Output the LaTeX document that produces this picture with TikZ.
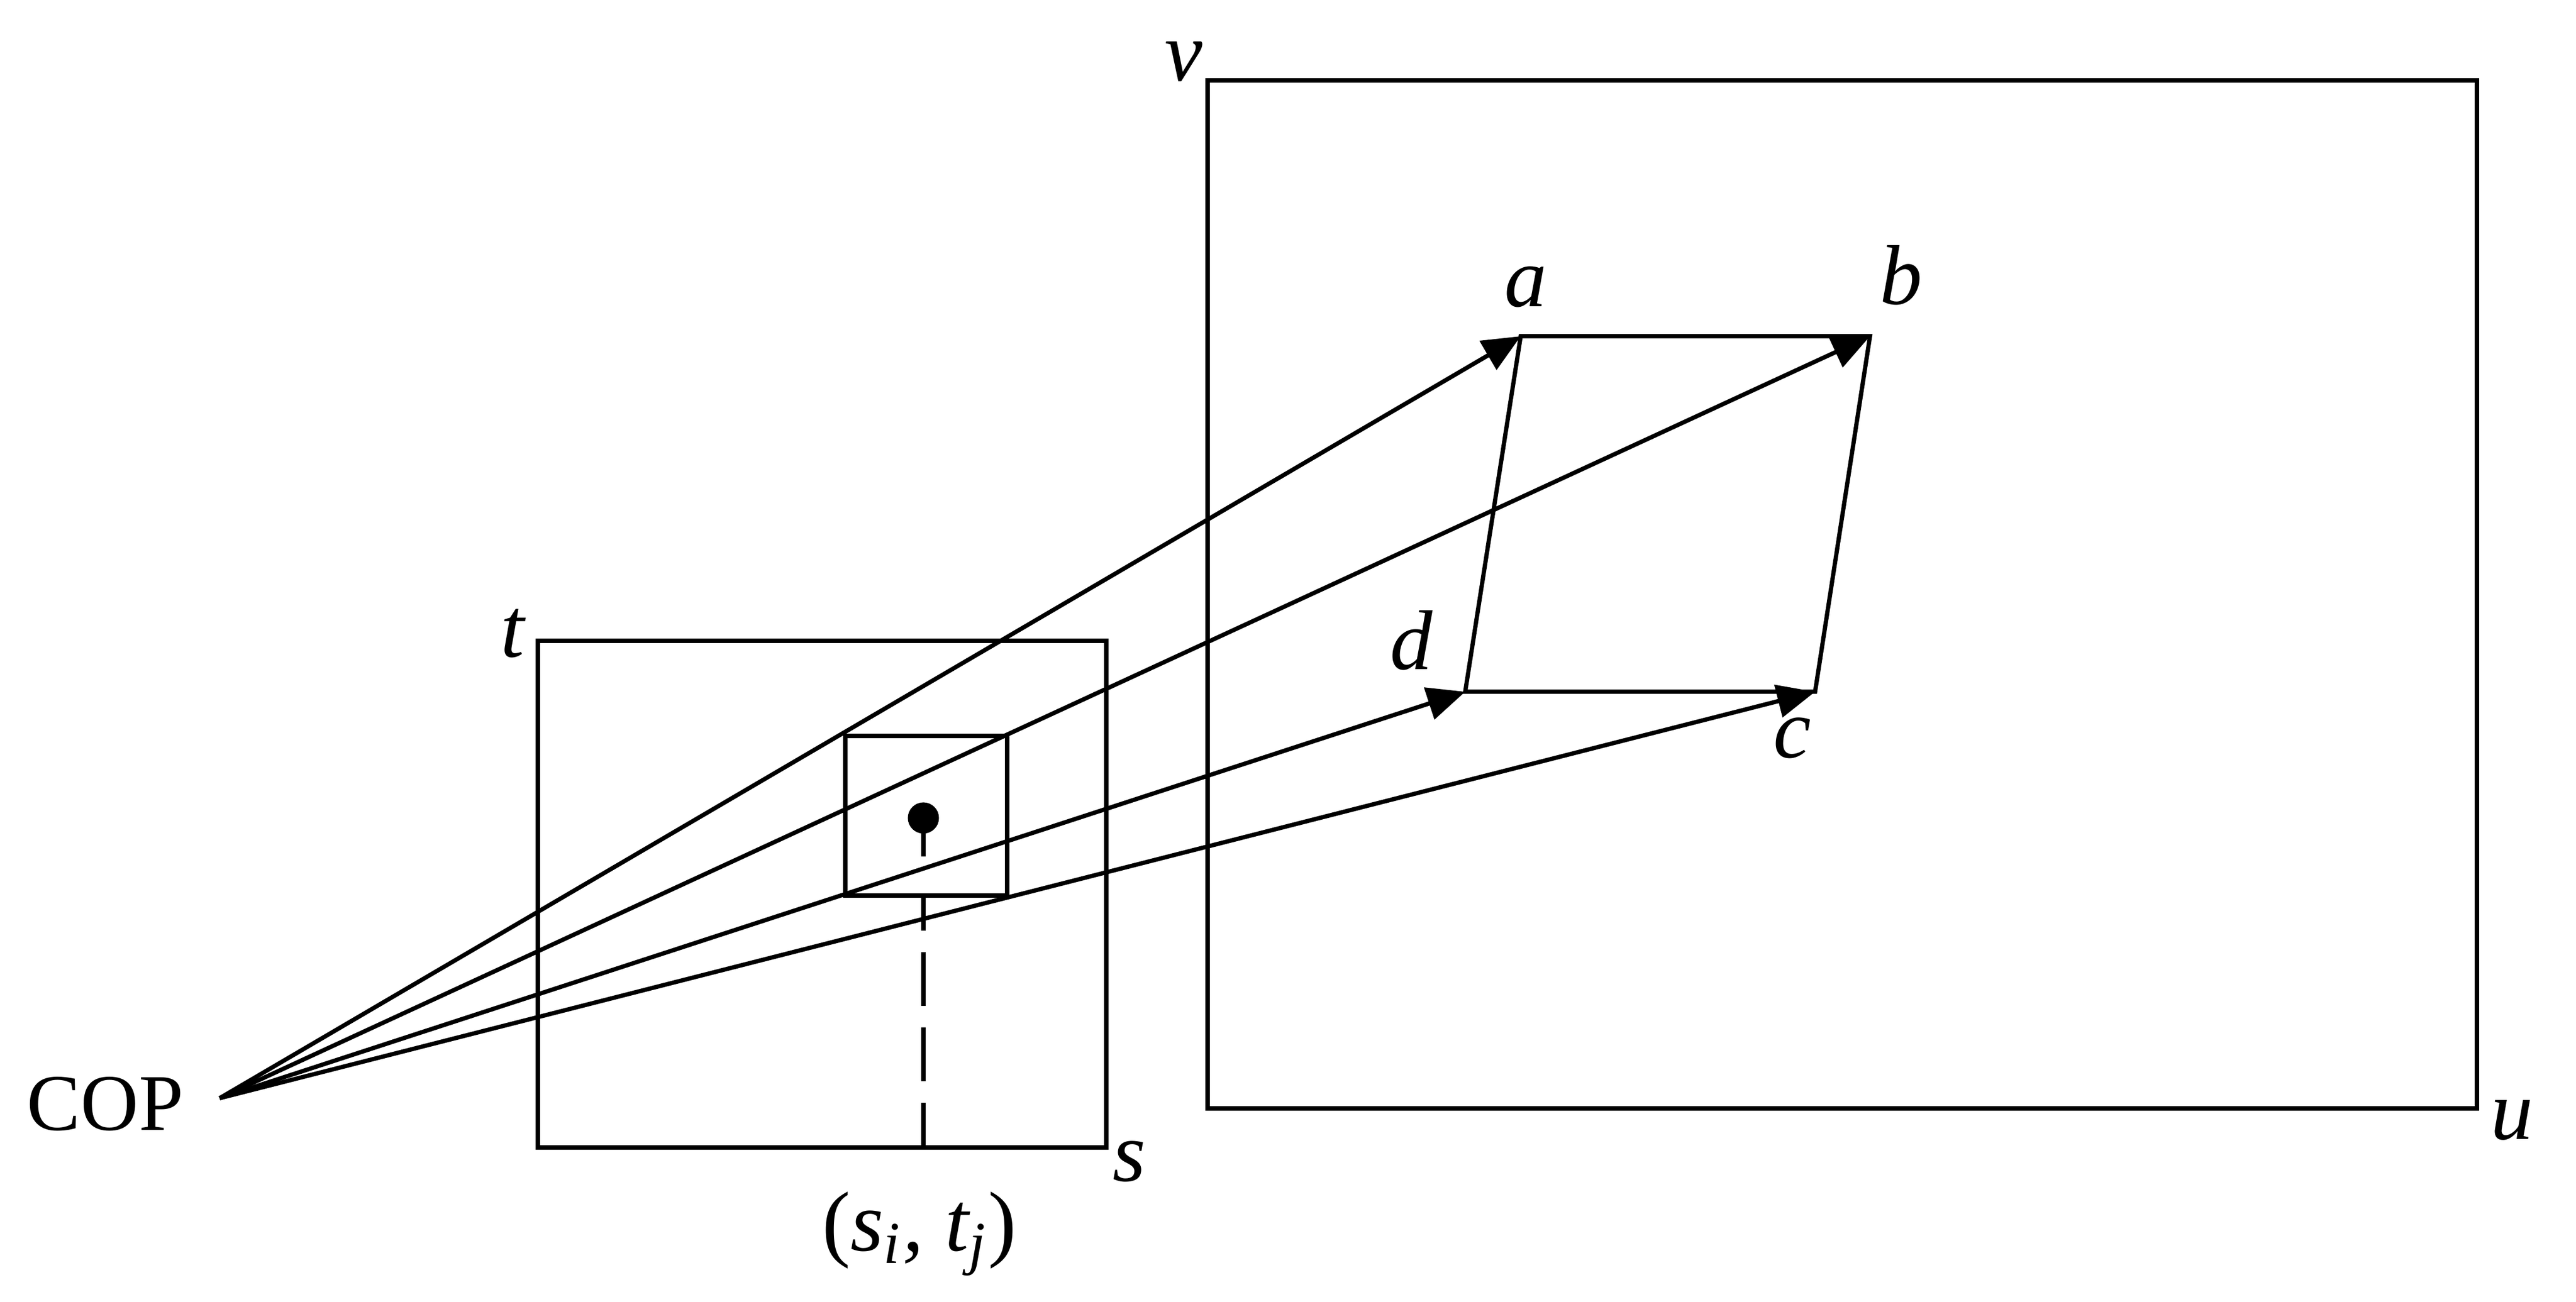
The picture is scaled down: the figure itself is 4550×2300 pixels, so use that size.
\documentclass[tikz,border=0pt]{standalone}
\usepackage{fontspec}
\setmainfont{Liberation Serif}
\usetikzlibrary{arrows.meta}
\tikzset{
  ln/.style={line width=0.75pt, line join=miter},
  ray/.style={ln, -{Triangle[length=6.7pt,width=5.8pt]}},
  lbl/.style={anchor=base, inner sep=0pt, font=\fontsize{15pt}{18pt}\selectfont},
  dashln/.style={ln, dash pattern=on 9.5pt off 3.8pt, dash phase=3.3pt}
}
\begin{document}
\begin{tikzpicture}[x=0.1pt,y=-0.1pt]
\useasboundingbox (0,0) rectangle (4550,2300);
% points
\coordinate (cop) at (388,1940);
\coordinate (a) at (2686,594);
\coordinate (b) at (3303,594);
\coordinate (c) at (3206,1222);
\coordinate (d) at (2588,1222);
% image plane (s,t)
\coordinate (st1) at (950,1132);
\coordinate (st2) at (1954,2027);
\draw[ln] (st1) rectangle (st2);
% pixel window
\coordinate (p1) at (1493,1300);
\coordinate (p2) at (1779,1582);
\draw[ln] (p1) rectangle (p2);
% world plane (u,v)
\coordinate (uv1) at (2133,142);
\coordinate (uv2) at (4375,1958);
\draw[ln] (uv1) rectangle (uv2);
% quad
\draw[ln] (a) -- (b) -- (c) -- (d) -- cycle;
% rays
\draw[ray] (cop) -- (a);
\draw[ray] (cop) -- (b);
\draw[ray] (cop) -- (d);
\draw[ray] (cop) -- (c);
% sample point
\coordinate (dot) at (1631,1445);
\coordinate (stick) at (1631,1513);
\coordinate (dtop) at (1631,1582);
\coordinate (dbot) at (1631,2027);
\fill (dot) circle (2.75pt);
\draw[ln] (dot) -- (stick);
\draw[dashln] (dtop) -- (dbot);
% labels
\node[lbl, font=\fontsize{14.2pt}{17pt}\selectfont] (lcop) at (186,1997) {COP};
\node[lbl] (lt) at (907,1161) {\textit{t}};
\node[lbl] (ls) at (1995,2087) {\textit{s}};
\node[lbl] (lv) at (2091,143) {\textit{v}};
\node[lbl] (lu) at (4437,2013) {\textit{u}};
\node[lbl] (la) at (2695,542) {\textit{a}};
\node[lbl] (lb) at (3358,538) {\textit{b}};
\node[lbl] (ld) at (2493,1183) {\textit{d}};
\node[lbl] (lc) at (3166,1339) {\textit{c}};
\node[lbl] (lst) at (1624,2210) {(\textit{s\textsubscript{i}, t\textsubscript{j}})};
\end{tikzpicture}
\end{document}
